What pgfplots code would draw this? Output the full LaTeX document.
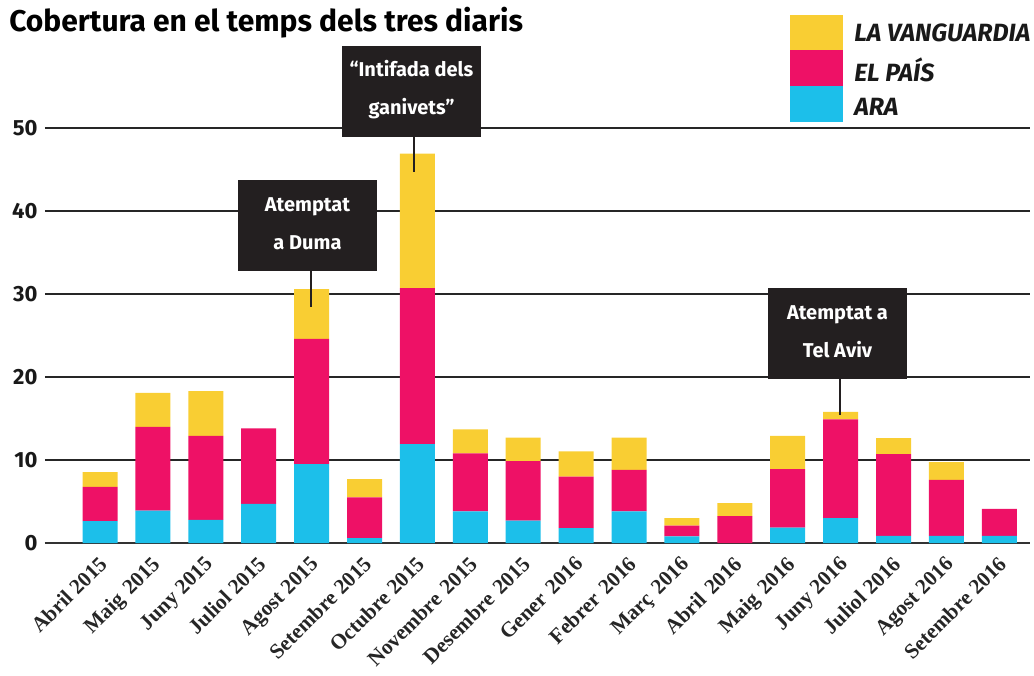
\documentclass[border=0pt]{standalone}
\usepackage{pgfplots}
\pgfplotsset{compat=1.18}
\usepackage{pgfplotstable}
\usepackage{fontspec}
\setmainfont{Liberation Serif}
\newfontfamily\fira{Fira Sans}
\definecolor{cLV}{HTML}{F9CE33}
\definecolor{cPA}{HTML}{EE1166}
\definecolor{cAR}{HTML}{1CBFEA}
\definecolor{cBox}{HTML}{231F20}
\newcommand{\dsp}{\ \hspace{0.1em}}

\pgfplotstableread{
i ara pais lv
0 2.65 4.10 1.80
1 3.90 10.10 4.10
2 2.80 10.10 5.40
3 4.70 9.10 0
4 9.50 15.10 6.00
5 0.60 4.90 2.20
6 11.90 18.80 16.20
7 3.80 7.00 2.90
8 2.70 7.15 2.85
9 1.80 6.20 3.05
10 3.80 5.00 3.90
11 0.80 1.30 0.90
12 0 3.25 1.55
13 1.85 7.05 4.00
14 3.00 11.90 0.90
15 0.85 9.85 1.95
16 0.85 6.75 2.15
17 0.85 3.25 0
}\data

\begin{document}
\begin{tikzpicture}
\path[use as bounding box] (-33.75pt,-99pt) rectangle (741.75pt,407.25pt);
\begin{axis}[
  at={(0pt,0pt)}, anchor=south west,
  scale only axis, width=738.75pt, height=311.25pt,
  xmin=-1.04, xmax=17.58, ymin=0, ymax=50,
  clip=false,
  ybar stacked, bar width=26.25pt,
  axis lines=left,
  x axis line style={-, draw=black!80, line width=1.2pt},
  y axis line style={draw=none},
  tick style={draw=none},
  ymajorgrids, grid style={black!85, line width=0.8pt},
  ytick={0,10,20,30,40,50},
  yticklabel style={font=\fira\bfseries\fontsize{16.5}{18}\selectfont, text=black!90},
  /pgf/number format/assume math mode=true,
  xtick={0,...,17},
  xticklabels={Abril 2015, Maig\dsp 2015, Juny 2015, Juliol 2015, Agost 2015, Setembre 2015, Octubre 2015, Novembre\dsp 2015, Desembre\dsp 2015, Gener\dsp 2016, Febrer\dsp 2016, Març\dsp 2016, Abril\dsp 2016, Maig\dsp 2016, Juny 2016, Juliol 2016, Agost 2016, Setembre 2016},
  xticklabel style={rotate=45, anchor=north east, inner sep=0pt, xshift=-6pt, yshift=-3.5pt, font=\bfseries\fontsize{16}{18}\selectfont, text=black!85},
]
\addplot[fill=cAR, draw=none] table[x=i, y=ara] {\data};
\addplot[fill=cPA, draw=none] table[x=i, y=pais] {\data};
\addplot[fill=cLV, draw=none] table[x=i, y=lv] {\data};
\end{axis}
\begin{scope}[x=0.75pt, y=-0.75pt, shift={(-33.75pt,407.25pt)}]
  % title
  \node[anchor=west, inner sep=0] at (9,23) {\fira\bfseries\fontsize{22.5}{26}\selectfont Cobertura en el temps dels tres diaris};
  % legend
  \fill[cLV] (790,15) rectangle (843,50);
  \fill[cPA] (790,50) rectangle (843,86);
  \fill[cAR] (790,86) rectangle (843,122);
  \begin{scope}[every node/.style={anchor=west, inner sep=0, text=black!90, font=\fira\bfseries\itshape\fontsize{18.7}{20}\selectfont}]
    \node at (854,33) {LA VANGUARDIA};
    \node at (854,70) {EL PAÍS};
    \node at (854,107) {ARA};
  \end{scope}
  % annotations
  \begin{scope}[every node/.style={align=center, text=white, inner sep=0, font=\fira\bfseries\fontsize{15}{28.5}\selectfont}]
    \fill[cBox] (238,180) rectangle (377,271);
    \node at (307.5,224) {Atemptat\\a Duma};
    \draw[cBox, line width=2.2pt] (311,271) -- (311,307);
    \fill[cBox] (342,46) rectangle (481,137);
    \node at (411.5,90) {“Intifada dels\\ganivets”};
    \draw[cBox, line width=2.2pt] (414,137) -- (414,172);
    \fill[cBox] (768,288) rectangle (907,379);
    \node at (837.5,332) {Atemptat a\\Tel Aviv};
    \draw[cBox, line width=2.2pt] (840,379) -- (840,415);
  \end{scope}
\end{scope}
\end{tikzpicture}
\end{document}
